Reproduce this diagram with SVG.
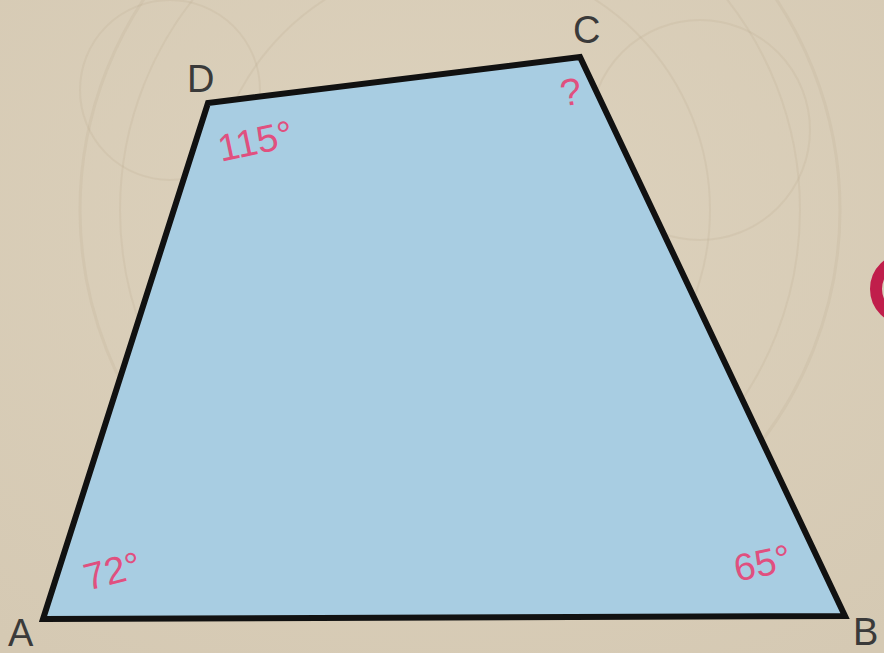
<svg xmlns="http://www.w3.org/2000/svg" width="884" height="653" viewBox="0 0 884 653">
<defs>
<radialGradient id="bg" cx="0.5" cy="0.35" r="0.8">
<stop offset="0" stop-color="#ddd2bd"/>
<stop offset="1" stop-color="#d5c9b3"/>
</radialGradient>
<style>
.lbl{font-family:"Liberation Sans",Arial,sans-serif;font-size:38px;fill:#3a3a3a;}
.ang{font-family:"Liberation Sans",Arial,sans-serif;font-size:38px;fill:#e0507f;}
.orn{fill:none;stroke:#b9a98c;stroke-opacity:0.18;}
</style>
</defs>
<rect x="0" y="0" width="884" height="653" fill="url(#bg)"/>
<g id="background-ornament">
<circle class="orn" cx="460" cy="210" r="380" stroke-width="3"/>
<circle class="orn" cx="460" cy="210" r="340" stroke-width="2"/>
<circle class="orn" cx="460" cy="210" r="250" stroke-width="2"/>
<circle class="orn" cx="170" cy="90" r="90" stroke-width="2"/>
<circle class="orn" cx="700" cy="130" r="110" stroke-width="2"/>
</g>
<g id="quadrilateral">
<polygon points="43,619 845,616 580,57 208,103" fill="#a8cde2" stroke="#111" stroke-width="6" stroke-linejoin="miter"/>
</g>
<g id="vertex-labels">
<text class="lbl" x="187" y="92">D</text>
<text class="lbl" x="573" y="43">C</text>
<text class="lbl" x="8" y="646">A</text>
<text class="lbl" x="853" y="645">B</text>
</g>
<g id="angle-labels">
<text class="ang" transform="translate(256,144) rotate(-12)" text-anchor="middle" dominant-baseline="middle">115°</text>
<text class="ang" transform="translate(571,95) rotate(-8)" text-anchor="middle" dominant-baseline="middle">?</text>
<text class="ang" transform="translate(113,574) rotate(-14)" text-anchor="middle" dominant-baseline="middle">72°</text>
<text class="ang" transform="translate(763,566) rotate(-12)" text-anchor="middle" dominant-baseline="middle">65°</text>
</g>
<g id="red-ring">
<circle cx="906" cy="289" r="30" fill="none" stroke="#c01e4b" stroke-width="12"/>
</g>
</svg>
